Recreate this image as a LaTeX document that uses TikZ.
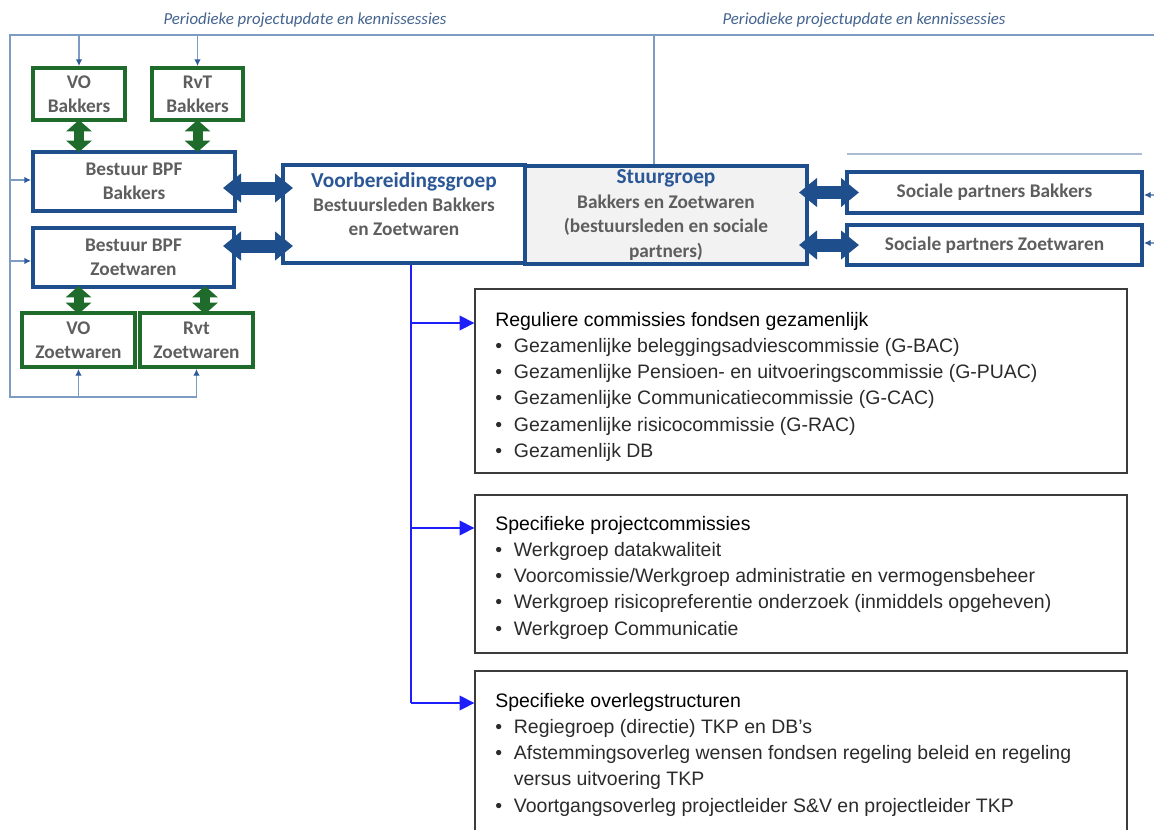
\documentclass[tikz,border=0pt]{standalone}
\usepackage{fontspec}
\setmainfont{Liberation Sans}
\newfontfamily\calfnt{Carlito}
\usetikzlibrary{arrows.meta,calc}
\definecolor{dblue}{HTML}{1F4E8C}
\definecolor{tblue}{HTML}{2B5797}
\definecolor{dgreen}{HTML}{1E6B2B}
\definecolor{tgray}{HTML}{5E5E5E}
\definecolor{labblue}{HTML}{44648F}
\definecolor{frameblue}{HTML}{7E9BC4}
\definecolor{faintblue}{HTML}{A9BCD6}
\definecolor{tipblue}{HTML}{2F5B9A}
\definecolor{trunkblue}{RGB}{30,30,250}
\definecolor{boxgray}{HTML}{3C3C3C}
\definecolor{itemgray}{HTML}{2B2B2B}
\definecolor{stuurfill}{HTML}{F2F2F2}
\newcommand{\bxfont}{\calfnt\bfseries\fontsize{14.5}{17.8}\selectfont}
\newcommand{\btfont}{\fontsize{14.6}{19.7}\selectfont}
\tikzset{
  bbox/.style={draw=dblue, line width=3pt, fill=white, inner sep=0pt, font=\bxfont, text=tgray, align=center},
  gbox/.style={draw=dgreen, line width=3pt, fill=white, inner sep=0pt, font=\bxfont, text=tgray, align=center},
  framel/.style={draw=frameblue, line width=1.1pt},
  tarrow/.style={draw=frameblue, line width=1.1pt, -{Latex[length=5pt,width=5pt,color=tipblue]}},
  bigarr/.style={draw=dblue, line width=9.75pt, {Triangle[length=13.5pt,width=21pt]}-{Triangle[length=13.5pt,width=21pt]}},
  garr/.style={draw=dgreen, line width=7.5pt, {Triangle[length=8.5pt,width=18.75pt]}-{Triangle[length=8.5pt,width=18.75pt]}},
  lbox/.style={draw=boxgray, line width=1pt, inner sep=0pt},
  trunk/.style={draw=trunkblue, line width=1.1pt},
  tarr/.style={draw=trunkblue, line width=1.1pt, -{Triangle[length=11pt,width=11pt]}},
  ltext/.style={anchor=base west, inner sep=0pt, font=\btfont, text=itemgray},
  toplabel/.style={font=\calfnt\itshape\fontsize{12.6}{14}\selectfont, text=labblue, inner sep=0pt}
}
\begin{document}
\begin{tikzpicture}[x=0.75pt,y=-0.75pt]
\useasboundingbox (0,0) rectangle (1154,829);
\fill[white] (0,0) rectangle (1154,829);

% top labels
\node[toplabel] (lab1) at (305,20) {Periodieke projectupdate en kennissessies};
\node[toplabel] (lab2) at (864,20) {Periodieke projectupdate en kennissessies};

% boxes
\node[gbox, minimum width=69pt, minimum height=39pt] (voB) at (79,94) {VO\\Bakkers};
\node[gbox, minimum width=68.25pt, minimum height=39pt] (rvtB) at (197.5,94) {RvT\\Bakkers};
\node[bbox, minimum width=151.5pt, minimum height=44.25pt] (bestB) at (134,181.5) {Bestuur BPF\\Bakkers};
\node[bbox, minimum width=150.75pt, minimum height=44.25pt] (bestZ) at (133.5,257.5) {Bestuur BPF\\Zoetwaren};
\node[gbox, minimum width=84.75pt, minimum height=40.5pt] (voZ) at (78.5,340) {VO\\Zoetwaren};
\node[gbox, minimum width=84.75pt, minimum height=40.5pt] (rvtZ) at (196.5,340) {Rvt\\Zoetwaren};
\node[bbox, minimum width=181.5pt, minimum height=73.5pt] (voorb) at (404,214) {};
\node[bbox, fill=stuurfill, minimum width=211.5pt, minimum height=73.5pt] (stuur) at (666,215)
  {{\color{tblue}\fontsize{16}{18}\selectfont Stuurgroep}\\[0.6pt]Bakkers en Zoetwaren\\[0.6pt](bestuursleden en sociale\\[0.6pt]partners)};
\node[font=\bxfont, text=tgray, align=center, inner sep=0pt] (voorbT) at (404,204)
  {{\color{tblue}\fontsize{16}{17.8}\selectfont Voorbereidingsgroep}\\Bestuursleden Bakkers\\en Zoetwaren};
\node[bbox, minimum width=221.25pt, minimum height=30.75pt] (spB) at (994.5,192.5) {Sociale partners Bakkers};
\node[bbox, minimum width=221.25pt, minimum height=30pt] (spZ) at (994.5,245) {Sociale partners Zoetwaren};

% frame lines
\coordinate (fTL) at (10,35);
\coordinate (fTR) at (1154,35);
\coordinate (fBL) at (10,397);
\coordinate (fBR) at (rvtZ.south |- fBL);
\draw[framel] (fTR) -- (fTL) -- (fBL) -- (fBR);
\draw[framel] (stuur.north -| 654,0) -- (654,35);
\draw[draw=faintblue, line width=1pt] (847,154) -- (1142,154);

\coordinate (t1) at (voB.north |- fTL);
\coordinate (t2) at (rvtB.north |- fTL);
\draw[tarrow] (t1) -- (voB.north);
\draw[tarrow] (t2) -- (rvtB.north);
\coordinate (l1) at (10,180);
\coordinate (l2) at (10,261);
\draw[tarrow] (l1) -- (bestB.west |- l1);
\draw[tarrow] (l2) -- (bestZ.west |- l2);
\coordinate (b1) at (voZ.south |- fBL);
\draw[tarrow] (b1) -- (voZ.south);
\draw[tarrow] (fBR) -- (rvtZ.south);
\coordinate (r1) at (1154,195);
\coordinate (r2) at (1154,243);
\draw[tarrow] (r1) -- (spB.east |- r1);
\draw[tarrow] (r2) -- (spZ.east |- r2);

% green double arrows
\draw[garr] ($(voB.south)+(0,-2)$) -- ($(bestB.north -| voB.south)+(0,2)$);
\draw[garr] ($(rvtB.south)+(0,-2)$) -- ($(bestB.north -| rvtB.south)+(0,2)$);
\coordinate (gx) at (205,0);
\draw[garr] ($(bestZ.south -| voZ.north)+(0,-3)$) -- ($(voZ.north)+(0,3)$);
\draw[garr] ($(bestZ.south -| gx)+(0,-3)$) -- ($(rvtZ.north -| gx)+(0,3)$);

% blue double arrows
\coordinate (ya) at (0,188);
\coordinate (yb) at (0,246);
\draw[bigarr] ($(bestB.east |- ya)+(-14,0)$) -- ($(voorb.west |- ya)+(12,0)$);
\draw[bigarr] ($(bestZ.east |- yb)+(-13,0)$) -- ($(voorb.west |- yb)+(12,0)$);
\draw[bigarr] ($(stuur.east |- spB.west)+(-10,0)$) -- ($(spB.west)+(14,0)$);
\draw[bigarr] ($(stuur.east |- spZ.west)+(-10,0)$) -- ($(spZ.west)+(14,0)$);

% lower boxes
\node[lbox, minimum width=489pt, minimum height=138pt] (box1) at (801,381) {};
\node[lbox, minimum width=489pt, minimum height=118.5pt] (box2) at (801,574) {};
\node[lbox, minimum width=489pt, minimum height=126.75pt] (box3) at (801,755.5) {};

\node[ltext] (txt1) at (495,326) {\begin{tabular}[t]{@{}p{14pt}@{}l@{}}
\multicolumn{2}{@{}l@{}}{\color{black}Reguliere commissies fondsen gezamenlijk}\\
\textbullet & Gezamenlijke beleggingsadviescommissie (G-BAC)\\
\textbullet & Gezamenlijke Pensioen- en uitvoeringscommissie (G-PUAC)\\
\textbullet & Gezamenlijke Communicatiecommissie (G-CAC)\\
\textbullet & Gezamenlijke risicocommissie (G-RAC)\\
\textbullet & Gezamenlijk DB
\end{tabular}};
\node[ltext] (txt2) at (495,530) {\begin{tabular}[t]{@{}p{14pt}@{}l@{}}
\multicolumn{2}{@{}l@{}}{\color{black}Specifieke projectcommissies}\\
\textbullet & Werkgroep datakwaliteit\\
\textbullet & Voorcomissie/Werkgroep administratie en vermogensbeheer\\
\textbullet & Werkgroep risicopreferentie onderzoek (inmiddels opgeheven)\\
\textbullet & Werkgroep Communicatie
\end{tabular}};
\node[ltext] (txt3) at (495,707) {\begin{tabular}[t]{@{}p{14pt}@{}l@{}}
\multicolumn{2}{@{}l@{}}{\color{black}Specifieke overlegstructuren}\\
\textbullet & Regiegroep (directie) TKP en DB’s\\
\textbullet & Afstemmingsoverleg wensen fondsen regeling beleid en regeling\\
 & versus uitvoering TKP\\
\textbullet & Voortgangsoverleg projectleider S\&V en projectleider TKP
\end{tabular}};

% trunk
\coordinate (br1) at (411,323);
\coordinate (br2) at (411,528);
\coordinate (br3) at (411,703);
\draw[trunk] (voorb.south -| br1) -- (br3);
\draw[tarr] (br1) -- (box1.west |- br1);
\draw[tarr] (br2) -- (box2.west |- br2);
\draw[tarr] (br3) -- (box3.west |- br3);
\end{tikzpicture}
\end{document}
